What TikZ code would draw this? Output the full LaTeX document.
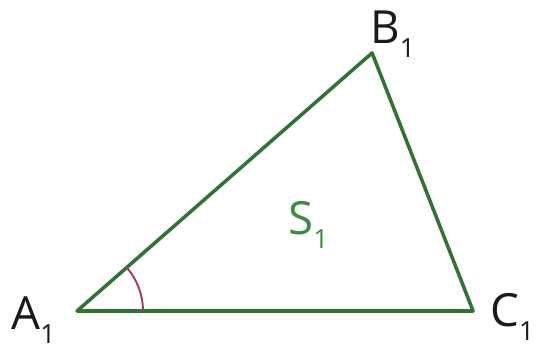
\documentclass[tikz,border=0pt]{standalone}
\usepackage{fontspec}
\setmainfont{Open Sans}
\definecolor{Edge}{HTML}{2F7430}
\definecolor{Area}{HTML}{3C8C3C}
\definecolor{Arc}{HTML}{A83A5A}
\definecolor{Ink}{HTML}{1A1A1A}
\usetikzlibrary{calc}
\newcommand{\sub}[1]{\raisebox{-0.6ex}{\fontsize{15}{15}\selectfont #1}}
\tikzset{
  side/.style={draw=Edge,line width=2pt,line join=round},
  anglearc/.style={draw=Arc,line width=1.1pt},
  vlabel/.style={anchor=base west,inner sep=0pt,text=Ink,font=\fontsize{26}{30}\selectfont},
  arealabel/.style={vlabel,text=Area}
}
\begin{document}
\begin{tikzpicture}[scale=0.02]
  \useasboundingbox (0,0) rectangle (548,350);
  \coordinate (A) at (77,39);
  \coordinate (B) at (372,297);
  \coordinate (C) at (473,39);
  \draw[side] (A) -- (B) -- (C) -- cycle;
  \draw[anglearc] ($(A)+(66,0)$) arc[start angle=0,end angle=41.2,radius=66];
  \node[vlabel] (lA) at (11,21) {A\sub{1}};
  \node[vlabel] (lB) at (370,307) {B\sub{1}};
  \node[vlabel] (lC) at (490,24) {C\sub{1}};
  \node[arealabel] (lS) at (288,116) {S\sub{1}};
\end{tikzpicture}
\end{document}
